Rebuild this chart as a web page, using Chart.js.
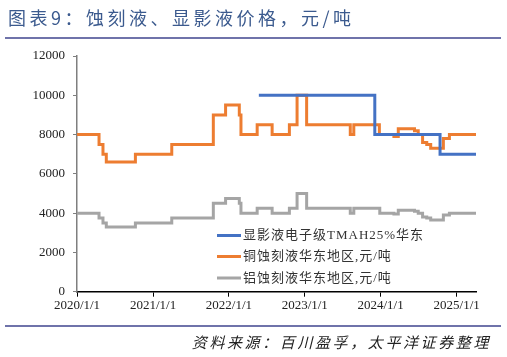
<!DOCTYPE html>
<html>
<head>
<meta charset="utf-8">
<script src="https://cdn.jsdelivr.net/npm/chart.js@4/dist/chart.umd.min.js"></script>
<style>
  html, body { margin: 0; padding: 0; background: #fff; }
  #wrap { position: relative; width: 507px; height: 357px; overflow: hidden; }
  #c { position: absolute; left: 0; top: 0; }
  #title { position: absolute; left: 8px; top: 4px; font: 18px "Noto Sans CJK SC", sans-serif; color: #3B5A8E; letter-spacing: 3.5px; white-space: nowrap; }
  #rule1 { position: absolute; left: 5px; top: 37px; width: 496px; height: 1.5px; background: #6F73AA; }
  #rule2 { position: absolute; left: 5px; top: 325px; width: 496px; height: 1.5px; background: #6F73AA; }
  #source { position: absolute; right: 16px; top: 331px; font: italic 15px "Noto Sans CJK SC", sans-serif; color: #222; letter-spacing: 2.6px; white-space: nowrap; }
</style>
</head>
<body>
<div id="wrap">
  <canvas id="c" width="507" height="357"></canvas>
  <div id="title">图表9：蚀刻液、显影液价格，元/吨</div>
  <div id="rule1"></div>
  <div id="rule2"></div>
  <div id="source">资料来源：百川盈孚，太平洋证券整理</div>
</div>
<script>
// ---- data ----
const seriesNames = ['显影液电子级TMAH25%华东', '铜蚀刻液华东地区,元/吨', '铝蚀刻液华东地区,元/吨'];

const tmahDates  = ['2022-05-25', '2023-12-04', '2024-10-13', '2025-04-04'];
const tmahValues = [10000, 8000, 7000, 7000];

const copperDates = ['2020-01-01','2020-04-16','2020-05-05','2020-05-21','2020-10-08','2021-04-01',
  '2021-10-18','2021-12-16','2022-02-20','2022-02-28','2022-05-17','2022-07-28','2022-10-19',
  '2022-11-25','2023-01-10','2023-08-08','2023-08-25','2023-12-26','2024-03-05','2024-03-26',
  '2024-06-12','2024-06-30','2024-07-21','2024-08-10','2024-08-29','2024-10-29','2024-11-27','2025-04-04'];
const copperValues = [8000,7500,7000,6600,7000,7500,
  9000,9500,9000,8000,8500,8000,8500,
  10000,8500,8000,8500,8000,7900,8300,
  8200,8000,7600,7500,7300,7800,8000,8000];

const aluminumDates = ['2020-01-01','2020-04-16','2020-05-05','2020-05-21','2020-10-08','2021-04-01',
  '2021-10-18','2021-12-16','2022-02-20','2022-02-28','2022-05-17','2022-07-28','2022-10-19',
  '2022-11-25','2023-01-10','2023-08-08','2023-08-25','2023-12-28','2024-03-05','2024-03-26',
  '2024-06-12','2024-06-30','2024-07-21','2024-08-10','2024-08-29','2024-10-29','2024-11-27','2025-04-04'];
const aluminumValues = [4000,3750,3500,3300,3500,3750,
  4500,4750,4500,4000,4250,4000,4250,
  5000,4250,4000,4250,4000,3950,4150,
  4100,4000,3800,3750,3650,3900,4000,4000];

const xTickDates  = ['2020-01-01','2021-01-01','2022-01-01','2023-01-01','2024-01-01','2025-01-01'];
const xTickLabels = ['2020/1/1','2021/1/1','2022/1/1','2023/1/1','2024/1/1','2025/1/1'];
const xStart = '2020-01-01';
const xEnd   = '2025-04-04';

// ---- build ----
const toPts = (d, v) => d.map((s, i) => ({ x: Date.parse(s), y: v[i] }));
const colors = ['#4472C4', '#ED7D31', '#A5A5A5'];
const tickVals = xTickDates.map(s => Date.parse(s));

const legendPlugin = {
  id: 'customLegend',
  afterDatasetsDraw(chart) {
    const ctx = chart.ctx;
    const x0 = 217, lineW = 24, textX = 243;
    const rows = [235.5, 256.5, 278];
    ctx.save();
    chart.data.datasets.forEach((ds, i) => {
      const y = rows[i];
      ctx.strokeStyle = ds.borderColor;
      ctx.lineWidth = 3;
      ctx.beginPath();
      ctx.moveTo(x0, y);
      ctx.lineTo(x0 + lineW, y);
      ctx.stroke();
      ctx.fillStyle = '#333';
      ctx.font = '13px "Liberation Serif", "Noto Sans CJK SC", serif';
      if ('letterSpacing' in ctx) ctx.letterSpacing = '1px';
      ctx.textBaseline = 'middle';
      ctx.textAlign = 'left';
      ctx.fillText(ds.label, textX, y + 0.5);
    });
    ctx.restore();
  }
};

new Chart(document.getElementById('c'), {
  type: 'line',
  data: {
    datasets: [
      { label: seriesNames[0], data: toPts(tmahDates, tmahValues), borderColor: colors[0] },
      { label: seriesNames[1], data: toPts(copperDates, copperValues), borderColor: colors[1] },
      { label: seriesNames[2], data: toPts(aluminumDates, aluminumValues), borderColor: colors[2] }
    ].map(d => Object.assign(d, { stepped: 'before', borderWidth: 3, pointRadius: 0, fill: false, tension: 0, borderJoinStyle: 'miter' }))
  },
  options: {
    responsive: false,
    animation: false,
    devicePixelRatio: 1,
    layout: { padding: { left: 0, top: 56, right: 31, bottom: 0 } },
    plugins: { legend: { display: false }, tooltip: { enabled: false }, title: { display: false } },
    scales: {
      x: {
        type: 'linear',
        min: Date.parse(xStart),
        max: Date.parse(xEnd),
        afterBuildTicks: s => { s.ticks = tickVals.map(v => ({ value: v })); },
        afterFit: s => { s.height = 65.3; },
        grid: { drawOnChartArea: false, drawTicks: true, tickLength: 5, color: '#000', lineWidth: 1 },
        border: { display: true, color: '#000', width: 1.5 },
        ticks: {
          autoSkip: false, maxRotation: 0, minRotation: 0, padding: 1,
          color: '#222',
          font: { family: '"Liberation Serif", serif', size: 13 },
          callback: v => { const i = tickVals.indexOf(v); return i >= 0 ? xTickLabels[i] : ''; }
        }
      },
      y: {
        min: 0, max: 12000,
        afterFit: s => { s.width = 77; },
        grid: { drawOnChartArea: false, drawTicks: true, tickLength: 4, color: '#7F7F7F', lineWidth: 1 },
        border: { display: true, color: '#7F7F7F', width: 1.5 },
        ticks: {
          stepSize: 2000, padding: 8,
          color: '#222',
          font: { family: '"Liberation Serif", serif', size: 13 },
          callback: v => String(v)
        }
      }
    }
  },
  plugins: [legendPlugin]
});
</script>
</body>
</html>
